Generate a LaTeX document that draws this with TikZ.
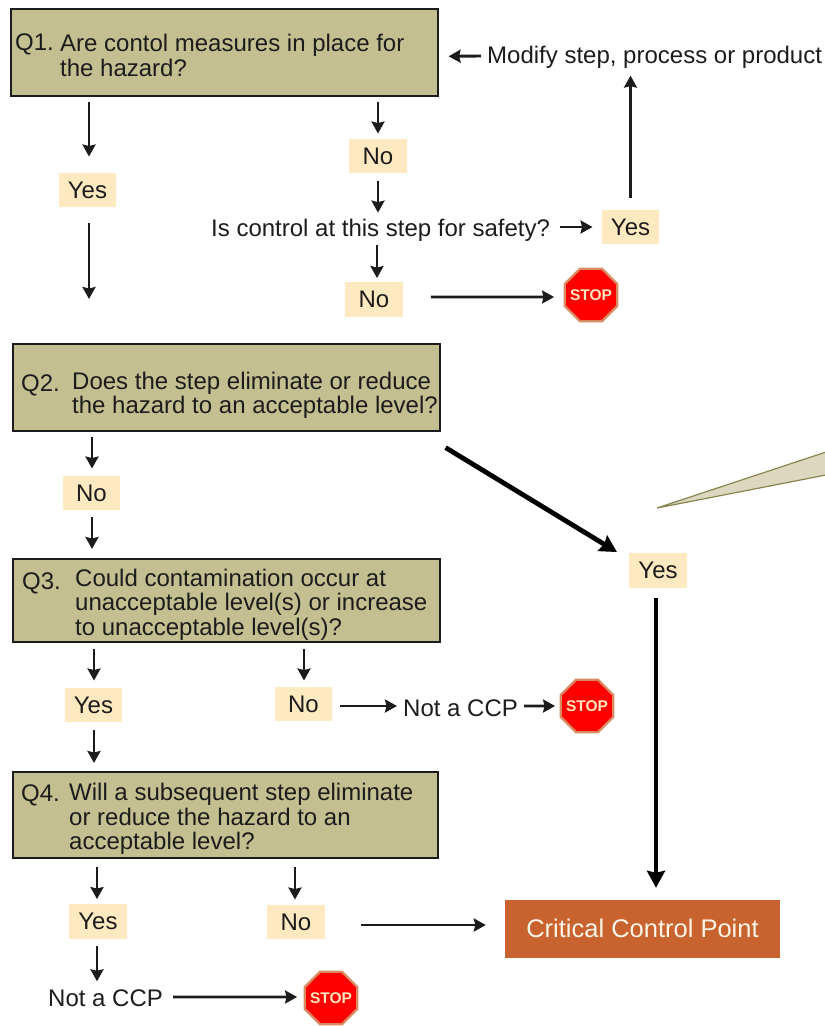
\documentclass[tikz,border=0pt]{standalone}
\usepackage{fontspec}
\setmainfont{Liberation Sans}
\usetikzlibrary{arrows.meta,shapes.geometric}
\definecolor{qfill}{HTML}{C4BF90}
\definecolor{ansfill}{HTML}{FEE9C0}
\definecolor{ccpfill}{HTML}{C8632F}
\definecolor{callfill}{HTML}{DCD8C0}
\definecolor{callline}{HTML}{8C8450}
\definecolor{stopline}{HTML}{D98A62}
\definecolor{stoptext}{HTML}{FFE6C0}
\definecolor{ink}{HTML}{1C1C1C}
\tikzset{
  txt/.style={inner sep=0pt,font=\fontsize{24}{24.5}\selectfont,text=ink,align=left},
  qbox/.style={draw=ink,line width=1.6pt,fill=qfill,anchor=north west,inner sep=0pt},
  ans/.style={fill=ansfill,inner sep=0pt,minimum width=57.5pt,minimum height=34.5pt,font=\fontsize{24}{24.5}\selectfont,text=ink},
  arr/.style={draw=ink,line width=2.9pt,-{Stealth[length=12pt,width=13pt,inset=1.5pt]}},
  thickarr/.style={draw=black,line width=4.8pt,-{Stealth[length=17pt,width=18pt,inset=2pt]}},
  stopsign/.style={regular polygon,regular polygon sides=8,minimum size=57pt,inner sep=0pt,fill=red,draw=stopline,line width=2.2pt,text=stoptext,font=\bfseries\fontsize{15.5}{16}\selectfont},
}
\newcommand{\stoplabel}{\makebox[0pt]{STOP}}
\begin{document}
\begin{tikzpicture}[x=1pt,y=-1pt]
\useasboundingbox (0,0) rectangle (825,1026);
% callout
\coordinate (calltip) at (657,508);
\coordinate (calla) at (826,452);
\coordinate (callb) at (826,475);
\draw[fill=callfill,draw=callline,line width=1.2pt,line join=miter] (calla) -- (calltip) -- (callb);
% question boxes
\node[qbox,minimum width=427pt,minimum height=87pt] (q1) at (10,8) {};
\node[qbox,minimum width=427pt,minimum height=87pt] (q2) at (12,343) {};
\node[qbox,minimum width=427pt,minimum height=83pt] (q3) at (12,558) {};
\node[qbox,minimum width=425pt,minimum height=86pt] (q4) at (12,771) {};
% box texts
\node[txt,anchor=west] (q1n) at (15,44) {Q1.};
\node[txt,anchor=west] (q1t) at (60,55.5) {Are contol measures in place for\\the hazard?};
\node[txt,anchor=west] (q2n) at (21,385) {Q2.};
\node[txt,anchor=west] (q2t) at (72,395.5) {Does the step eliminate or reduce\\the hazard to an acceptable level?};
\node[txt,anchor=west] (q3n) at (22,583) {Q3.};
\node[txt,anchor=west] (q3t) at (75,604.5) {Could contamination occur at\\unacceptable level(s) or increase\\to unacceptable level(s)?};
\node[txt,anchor=west] (q4n) at (21,795) {Q4.};
\node[txt,anchor=west] (q4t) at (69,819) {Will a subsequent step eliminate\\or reduce the hazard to an\\acceptable level?};
% free texts
\node[txt,anchor=west] (modify) at (487,57) {Modify step, process or product};
\node[txt,anchor=west] (safety) at (211,230) {Is control at this step for safety?};
\node[txt,anchor=west] (ncA) at (403,708) {Not a CCP};
\node[txt,anchor=west] (ncB) at (48,998) {Not a CCP};
% answers
\node[ans] (yesA) at (87.5,190) {Yes};
\node[ans] (noA) at (378,156) {No};
\node[ans] (yesB) at (630.5,227) {Yes};
\node[ans] (noB) at (374,299.5) {No};
\node[ans] (noC) at (91.5,493) {No};
\node[ans] (yesC) at (658,570.5) {Yes};
\node[ans] (yesD) at (93.5,705) {Yes};
\node[ans] (noD) at (303.5,704) {No};
\node[ans] (yesE) at (98,921.5) {Yes};
\node[ans] (noE) at (296,922) {No};
% result
\node[fill=ccpfill,text=stoptext!40!white,inner sep=0pt,minimum width=275pt,minimum height=58pt,font=\fontsize{25.5}{26}\selectfont] (ccp) at (642.5,929) {\raisebox{1.5pt}{Critical Control Point}};
% stops
\node[stopsign] (stopA) at (591,295) {\stoplabel};
\node[stopsign] (stopB) at (587,706) {\stoplabel};
\node[stopsign] (stopC) at (331,998) {\stoplabel};
% free end
\coordinate (yesEnd) at (89,299);
% connectors
\draw[arr] ([xshift=79pt,yshift=-5pt]q1.south west) -- ([xshift=1.5pt,yshift=16pt]yesA.north);
\draw[arr] ([xshift=1.5pt,yshift=-16pt]yesA.south) -- (yesEnd);
\draw[arr] ([xshift=368pt,yshift=-5pt]q1.south west) -- ([yshift=5pt]noA.north);
\draw[arr] ([yshift=-8pt]noA.south) -- ([xshift=167pt,yshift=6pt]safety.north west);
\draw[arr] ([xshift=166pt,yshift=-4pt]safety.south west) -- ([xshift=3pt,yshift=4pt]noB.north);
\draw[arr] ([xshift=28pt,yshift=2.5pt]noB.east) -- ([xshift=-9.5pt,yshift=-2pt]stopA.west);
\draw[arr] ([xshift=10pt,yshift=3pt]safety.east) -- ([xshift=-9pt]yesB.west);
\draw[arr] ([yshift=12pt]yesB.north) -- ([yshift=-30pt]modify.north -| yesB);
\draw[arr] ([xshift=-6pt,yshift=1pt]modify.west) -- ([xshift=10pt,yshift=-4pt]q1.east);
\draw[arr] ([xshift=80pt,yshift=-5pt]q2.south west) -- ([yshift=7pt,xshift=.5pt]noC.north);
\draw[arr] ([yshift=-7pt,xshift=.5pt]noC.south) -- ([xshift=80pt,yshift=9pt]q3.north west);
\draw[thickarr] ([xshift=5pt,yshift=-16pt]q2.south east) -- ([xshift=-41pt,yshift=1pt]yesC.north);
\draw[thickarr] ([xshift=-2pt,yshift=-10pt]yesC.south) -- ([xshift=13.5pt,yshift=12pt]ccp.north);
\draw[arr] ([xshift=82pt,yshift=-6pt]q3.south west) -- ([xshift=.5pt,yshift=7pt]yesD.north);
\draw[arr] ([xshift=292pt,yshift=-6pt]q3.south west) -- ([xshift=.5pt,yshift=6pt]noD.north);
\draw[arr] ([xshift=8pt,yshift=-2pt]noD.east) -- ([xshift=-6pt,yshift=2pt]ncA.west);
\draw[arr] ([xshift=6pt,yshift=2pt]ncA.east) -- ([xshift=-4.5pt]stopB.west);
\draw[arr] ([xshift=.5pt,yshift=-8pt]yesD.south) -- ([xshift=82pt,yshift=8pt]q4.north west);
\draw[arr] ([xshift=85pt,yshift=-8pt]q4.south west) -- ([xshift=-1pt,yshift=5pt]yesE.north);
\draw[arr] ([xshift=283pt,yshift=-8pt]q4.south west) -- ([xshift=-1pt,yshift=5pt]noE.north);
\draw[arr] ([xshift=36pt,yshift=-3pt]noE.east) -- ([xshift=-19pt,yshift=4pt]ccp.west);
\draw[arr] ([xshift=-1pt,yshift=-7pt]yesE.south) -- ([xshift=49pt,yshift=8pt]ncB.north west);
\draw[arr] ([xshift=10pt,yshift=1pt]ncB.east) -- ([xshift=-6.5pt,yshift=1pt]stopC.west);
\end{tikzpicture}
\end{document}
